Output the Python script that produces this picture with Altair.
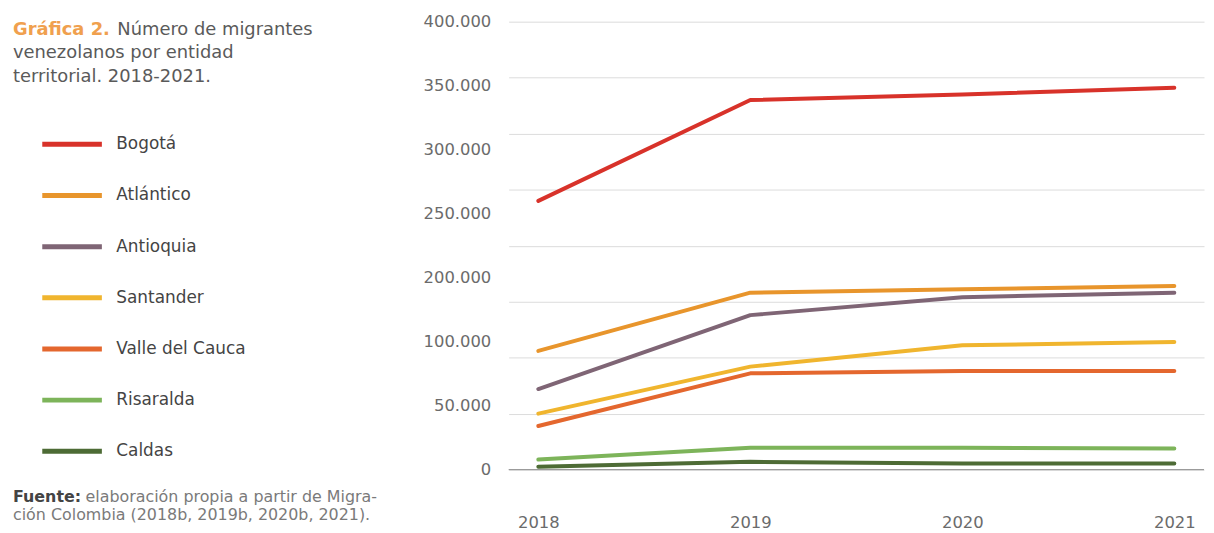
import altair as alt
import pandas as pd

# ---------------- data ----------------
years = ["2018", "2019", "2020", "2021"]
entidades = ["Bogotá", "Atlántico", "Antioquia", "Santander",
             "Valle del Cauca", "Risaralda", "Caldas"]
colores = ["#D8322A", "#E8952C", "#7F6575", "#F0B52E",
           "#E4672E", "#7DB45A", "#4D6B35"]

bogota = [240000, 330000, 335000, 341000]
atlantico = [106000, 158000, 161000, 164000]
antioquia = [72000, 138000, 154000, 158000]
santander = [50000, 92000, 111000, 114000]
valle = [39000, 86000, 88000, 88000]
risaralda = [9000, 19500, 19500, 19000]
caldas = [2700, 7000, 5500, 5500]

series = [bogota, atlantico, antioquia, santander, valle, risaralda, caldas]

grid_values = [0, 50000, 100000, 150000, 200000, 250000, 300000, 350000, 400000]
y_label_texts = ["0", "50.000", "100.000", "200.000", "250.000",
                 "300.000", "350.000", "400.000"]

title_lead = "Gráfica 2."
title_lines = ["Número de migrantes", "venezolanos por entidad",
               "territorial. 2018-2021."]
source_lead = "Fuente:"
source_lines = ["elaboración propia a partir de Migra-",
                "ción Colombia (2018b, 2019b, 2020b, 2021)."]

rows = []
for ent, vals in zip(entidades, series):
    for yr, v in zip(years, vals):
        rows.append({"Entidad": ent, "Año": yr, "Migrantes": v})
df = pd.DataFrame(rows)

FONT = "DejaVu Sans"
AXIS_COLOR = "#6b6b6b"

# ---------------- layers ----------------
zero_rule = alt.Chart(pd.DataFrame({"y": [0]})).mark_rule(
    color="#8a8a8a", strokeWidth=1
).encode(
    y=alt.Y("y:Q", scale=alt.Scale(domain=[0, 400000], nice=False), axis=None)
)

lines = alt.Chart(df).mark_line(
    strokeWidth=4, strokeCap="round", strokeJoin="round"
).encode(
    x=alt.X("Año:O", sort=years,
            scale=alt.Scale(type="point", padding=0.14),
            axis=alt.Axis(title=None, labelAngle=0, ticks=False, domain=False,
                          grid=False, labelPadding=45, labelFontSize=16.5,
                          labelFont=FONT, labelColor=AXIS_COLOR)),
    y=alt.Y("Migrantes:Q",
            scale=alt.Scale(domain=[0, 400000], nice=False),
            axis=alt.Axis(values=grid_values, labels=False, ticks=False,
                          domain=False, grid=True, gridColor="#dcdcdc",
                          gridWidth=1, title=None)),
    color=alt.Color("Entidad:N",
                    scale=alt.Scale(domain=entidades, range=colores),
                    legend=alt.Legend(
                        title=None, orient="none", legendX=-452, legendY=111,
                        direction="vertical", symbolType="M-3,0H3",
                        symbolSize=400, symbolStrokeWidth=5,
                        labelOffset=32, rowPadding=28.5, padding=0,
                        labelFont=FONT, labelFontSize=17, labelColor="#444444",
                        labelLimit=400)),
    detail="Entidad:N",
)

label_expr = "[" + ",".join("'" + t + "'" for t in y_label_texts) + "][datum.value]"
ylabels = alt.Chart(pd.DataFrame({"idx": list(range(len(y_label_texts))),
                                  "t": y_label_texts})).mark_point(opacity=0).encode(
    y=alt.Y("idx:Q",
            scale=alt.Scale(domain=[0, len(y_label_texts) - 1], nice=False, zero=False),
            axis=alt.Axis(orient="left", values=list(range(len(y_label_texts))),
                          labelExpr=label_expr, grid=False, ticks=False,
                          domain=False, labelPadding=18, labelFontSize=16.5,
                          labelFont=FONT, labelColor=AXIS_COLOR, title=None))
)


def txt(s, x, y, color, size, bold=False):
    return alt.Chart(pd.DataFrame({"t": [s]})).mark_text(
        align="left", baseline="alphabetic", font=FONT, fontSize=size,
        fontWeight="bold" if bold else "normal", color=color
    ).encode(text="t:N", x=alt.value(x), y=alt.value(y))


ann = [
    txt(title_lead, -499, 13, "#F0A04E", 18, bold=True),
    txt(title_lines[0], -394, 13, "#5a5a5a", 18),
    txt(title_lines[1], -499, 37, "#5a5a5a", 18),
    txt(title_lines[2], -499, 61, "#5a5a5a", 18),
    txt(source_lead, -499, 484, "#444444", 16, bold=True),
    txt(source_lines[0], -426, 484, "#7a7a7a", 16),
    txt(source_lines[1], -499, 502, "#7a7a7a", 16),
]

chart = alt.layer(zero_rule, lines, ylabels, *ann).resolve_scale(
    y="independent"
).properties(
    width=700, height=451,
    autosize=alt.AutoSizeParams(type="none"),
    padding={"left": 504, "top": 12, "right": 2, "bottom": 62},
    background="white",
).configure_view(stroke=None)

chart.save("out.html", embed_options={"renderer": "svg", "actions": False})
